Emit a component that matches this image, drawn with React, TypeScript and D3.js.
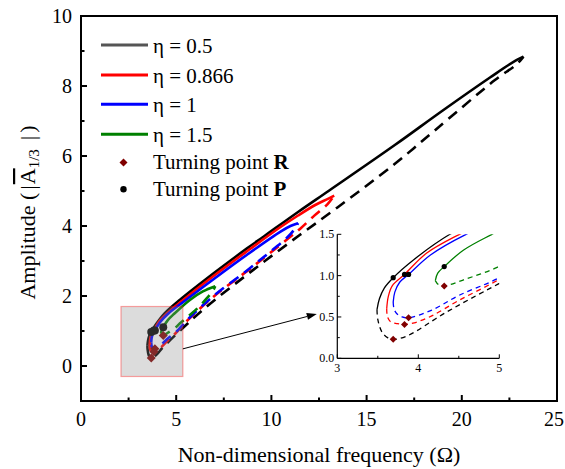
import React from 'react';
import * as d3 from 'd3';

type P = [number, number];

const seriesLabels = ['η = 0.5', 'η = 0.866', 'η = 1', 'η = 1.5'];
const seriesColors = ['#000000', '#ff0000', '#0000ff', '#008000'];
const legendColors = ['#555555', '#ff0000', '#0000ff', '#008000'];

const solidEta05: P[] = [[3.49,0.59],[3.52,0.72],[3.58,0.85],[3.69,0.975],[3.94,1.19],[4.39,1.5],[5.2,1.89],[7,2.66],[8.72,3.36],[9.6,3.7],[11.4,4.4],[13,5.0],[16.5,6.32],[19,7.3],[21.5,8.25],[22.8,8.72],[23.24,8.84]];
const dashEta05: P[] = [[3.49,0.59],[3.5,0.47],[3.55,0.32],[3.62,0.25],[3.69,0.23],[3.86,0.27],[4.35,0.56],[4.99,0.9],[6.43,1.62],[8.72,2.61],[11.01,3.55],[13.47,4.53],[16.47,5.77],[18.58,6.73],[21.74,8.17],[22.88,8.62],[23.24,8.84]];

const solidEta087: P[] = [[3.61,0.6],[3.63,0.75],[3.68,0.88],[3.83,1.015],[4.1,1.27],[4.51,1.5],[5.3,1.86],[6.96,2.57],[8.72,3.28],[10.48,3.97],[11.4,4.3],[12.3,4.6],[12.94,4.77],[13.3,4.87]];
const dashEta087: P[] = [[3.61,0.6],[3.62,0.5],[3.66,0.44],[3.74,0.42],[3.83,0.41],[3.95,0.43],[4.16,0.51],[4.5,0.7],[4.99,0.95],[5.55,1.28],[6.96,1.98],[8.72,2.71],[9.77,3.16],[10.83,3.62],[11.53,3.93],[12.24,4.29],[12.94,4.62],[13.3,4.87]];

const solidEta1: P[] = [[3.69,0.68],[3.71,0.8],[3.77,0.92],[3.88,1.015],[4.15,1.25],[4.59,1.5],[5.3,1.8],[6.96,2.48],[8.72,3.18],[10.48,3.84],[11.0,4.0],[11.4,4.08]];
const dashEta1: P[] = [[3.69,0.68],[3.7,0.6],[3.73,0.545],[3.8,0.5],[3.88,0.49],[4.16,0.58],[4.5,0.76],[4.99,0.97],[5.55,1.3],[6.96,2.0],[8.72,2.73],[9.77,3.19],[10.83,3.67],[11.2,3.9],[11.4,4.08]];

const solidEta15: P[] = [[4.21,0.94],[4.24,1.03],[4.32,1.11],[4.56,1.31],[4.91,1.5],[5.7,1.88],[6.4,2.13],[7.05,2.28]];
const dashEta15: P[] = [[4.21,0.94],[4.25,0.89],[4.32,0.875],[4.56,0.95],[4.95,1.09],[5.2,1.22],[5.7,1.45],[6.16,1.67],[6.6,1.93],[6.95,2.17],[7.05,2.28]];

const turningR: P[] = [[3.69,0.23],[3.83,0.41],[3.88,0.49],[4.32,0.875]];
const turningP: P[] = [[3.69,0.975],[3.83,1.015],[3.88,1.015],[4.32,1.11]];

const xTicks = [0, 5, 10, 15, 20, 25];
const xMinor = [2.5, 7.5, 12.5, 17.5, 22.5];
const yTicks = [0, 2, 4, 6, 8, 10];
const yMinor = [1, 3, 5, 7, 9];
const insetXTicks = [3, 4, 5];
const insetXMinor = [3.5, 4.5];
const insetYTicks = [0, 0.5, 1.0, 1.5];
const insetYMinor = [0.25, 0.75, 1.25];

const zoomBox = { x0: 2.1, x1: 5.35, y0: -0.3, y1: 1.7 };

const solids = [solidEta05, solidEta087, solidEta1, solidEta15];
const dashes = [dashEta05, dashEta087, dashEta1, dashEta15];

const FONT = 'Liberation Serif, Times New Roman, serif';

function diamond(cx: number, cy: number, r: number) {
  return `M${cx},${cy - r}L${cx + r},${cy}L${cx},${cy + r}L${cx - r},${cy}Z`;
}

export default function App() {
  const W = 565, H = 469;
  const x = d3.scaleLinear().domain([0, 25]).range([81, 557]);
  const y = d3.scaleLinear().domain([-1, 10]).range([401, 16]);
  const xi = d3.scaleLinear().domain([3, 5]).range([337.3, 499.3]);
  const yi = d3.scaleLinear().domain([0, 1.5]).range([358.3, 234.3]);

  const line = d3.line<P>().x(d => x(d[0])).y(d => y(d[1])).curve(d3.curveCatmullRom.alpha(0.5));
  const lineI = d3.line<P>().x(d => xi(d[0])).y(d => yi(d[1])).curve(d3.curveCatmullRom.alpha(0.5));

  const bx0 = x(zoomBox.x0), bx1 = x(zoomBox.x1), by0 = y(zoomBox.y1), by1 = y(zoomBox.y0);
  const arrowStart: P = [bx1, y(0.49)];
  const arrowEnd: P = [xi(3) - 20.5, yi(0.5) - 3];
  const ang = Math.atan2(arrowEnd[1] - arrowStart[1], arrowEnd[0] - arrowStart[0]);
  const ah = 10, aw = 3.5;
  const hb: P = [arrowEnd[0] - ah * Math.cos(ang), arrowEnd[1] - ah * Math.sin(ang)];
  const arrowHead = `M${arrowEnd[0]},${arrowEnd[1]}L${hb[0] + aw * Math.sin(ang)},${hb[1] - aw * Math.cos(ang)}L${hb[0] - aw * Math.sin(ang)},${hb[1] + aw * Math.cos(ang)}Z`;

  const legendRows = [45, 75, 104.3, 134.3];
  const ts = { fontFamily: FONT };

  return (
    <svg width={W} height={H} style={{ position: 'absolute', left: 0, top: 0, background: '#fff', fontFamily: FONT }}>
      <defs>
        <clipPath id="insetClip">
          <rect x={xi(3)} y={yi(1.5)} width={xi(5) - xi(3)} height={yi(0) - yi(1.5)} />
        </clipPath>
      </defs>
      <rect x={0} y={0} width={W} height={H} fill="#fff" />

      {/* main curves */}
      {dashes.map((d, i) => (
        <path key={'d' + i} d={line(d) || ''} fill="none" stroke={seriesColors[i]} strokeWidth={2.6} strokeDasharray="11,7" />
      ))}
      {solids.map((d, i) => (
        <path key={'s' + i} d={line(d) || ''} fill="none" stroke={seriesColors[i]} strokeWidth={2.6} strokeLinejoin="round" />
      ))}
      {turningR.map((p, i) => (
        <path key={'r' + i} d={diamond(x(p[0]), y(p[1]), 4.5)} fill="#800000" />
      ))}
      {turningP.map((p, i) => (
        <circle key={'p' + i} cx={x(p[0])} cy={y(p[1])} r={4} fill="#000" />
      ))}

      {/* zoom box */}
      <rect x={bx0} y={by0} width={bx1 - bx0} height={by1 - by0} fill="#8c8c8c" fillOpacity={0.3} stroke="#ff0000" strokeOpacity={0.35} strokeWidth={1.2} />

      {/* arrow */}
      <line x1={arrowStart[0]} y1={arrowStart[1]} x2={hb[0]} y2={hb[1]} stroke="#000" strokeWidth={1} />
      <path d={arrowHead} fill="#000" />

      {/* inset */}
      <g clipPath="url(#insetClip)">
        {dashes.map((d, i) => (
          <path key={'id' + i} d={lineI(d) || ''} fill="none" stroke={seriesColors[i]} strokeWidth={1.3} strokeDasharray="5,4" />
        ))}
        {solids.map((d, i) => (
          <path key={'is' + i} d={lineI(d) || ''} fill="none" stroke={seriesColors[i]} strokeWidth={1.3} />
        ))}
      </g>
      {turningR.map((p, i) => (
        <path key={'ir' + i} d={diamond(xi(p[0]), yi(p[1]), 3.5)} fill="#800000" />
      ))}
      {turningP.map((p, i) => (
        <circle key={'ip' + i} cx={xi(p[0])} cy={yi(p[1])} r={2.6} fill="#000" />
      ))}
      <line x1={xi(3)} y1={yi(0)} x2={xi(5)} y2={yi(0)} stroke="#000" strokeWidth={1.2} />
      <line x1={xi(3)} y1={yi(0)} x2={xi(3)} y2={yi(1.5)} stroke="#000" strokeWidth={1.2} />
      {insetXTicks.map(t => (
        <g key={'ixt' + t}>
          <line x1={xi(t)} x2={xi(t)} y1={yi(0)} y2={yi(0) - 4} stroke="#000" strokeWidth={1} />
          <text style={ts} x={xi(t)} y={yi(0) + 14} fontSize={12} textAnchor="middle">{t}</text>
        </g>
      ))}
      {insetXMinor.map(t => (
        <line key={'ixm' + t} x1={xi(t)} x2={xi(t)} y1={yi(0)} y2={yi(0) - 2.5} stroke="#000" strokeWidth={1} />
      ))}
      {insetYTicks.map(t => (
        <g key={'iyt' + t}>
          <line x1={xi(3)} x2={xi(3) + 4} y1={yi(t)} y2={yi(t)} stroke="#000" strokeWidth={1} />
          <text style={ts} x={xi(3) - 3} y={yi(t) + 4} fontSize={12} textAnchor="end">{t.toFixed(1)}</text>
        </g>
      ))}
      {insetYMinor.map(t => (
        <line key={'iym' + t} x1={xi(3)} x2={xi(3) + 2.5} y1={yi(t)} y2={yi(t)} stroke="#000" strokeWidth={1} />
      ))}

      {/* legend */}
      {seriesLabels.map((lab, i) => (
        <g key={'lg' + i}>
          <line x1={101} x2={148} y1={legendRows[i]} y2={legendRows[i]} stroke={legendColors[i]} strokeWidth={3} />
          <text style={ts} x={153} y={legendRows[i] + 8} fontSize={21}>{lab}</text>
        </g>
      ))}
      <path d={diamond(123.5, 162.5, 4)} fill="#800000" />
      <text style={ts} x={153} y={168.5} fontSize={21}>Turning point <tspan fontWeight="bold">R</tspan></text>
      <circle cx={123.5} cy={189.3} r={3.2} fill="#000" />
      <text style={ts} x={153} y={195.5} fontSize={21}>Turning point <tspan fontWeight="bold">P</tspan></text>

      {/* axes frame */}
      <rect x={x(0)} y={y(10)} width={x(25) - x(0)} height={y(-1) - y(10)} fill="none" stroke="#000" strokeWidth={2} />
      {xTicks.map(t => (
        <g key={'xt' + t}>
          <line x1={x(t)} x2={x(t)} y1={y(-1)} y2={y(-1) - 6} stroke="#000" strokeWidth={2} />
          <text style={ts} x={Math.min(x(t), W - 11)} y={426} fontSize={20} textAnchor="middle">{t}</text>
        </g>
      ))}
      {xMinor.map(t => (
        <line key={'xm' + t} x1={x(t)} x2={x(t)} y1={y(-1)} y2={y(-1) - 3.5} stroke="#000" strokeWidth={2} />
      ))}
      {yTicks.map(t => (
        <g key={'yt' + t}>
          <line x1={x(0)} x2={x(0) + 6} y1={y(t)} y2={y(t)} stroke="#000" strokeWidth={2} />
          <text style={ts} x={72} y={y(t) + 7} fontSize={20} textAnchor="end">{t}</text>
        </g>
      ))}
      {yMinor.map(t => (
        <line key={'ym' + t} x1={x(0)} x2={x(0) + 3.5} y1={y(t)} y2={y(t)} stroke="#000" strokeWidth={2} />
      ))}

      <text style={ts} x={(x(0) + x(25)) / 2} y={462} fontSize={22} textAnchor="middle">Non-dimensional frequency (Ω)</text>
      <text style={ts} transform={`translate(35,${(y(-1) + y(10)) / 2 + 4}) rotate(-90)`} fontSize={22} textAnchor="middle">
        Amplitude (<tspan dx={3}>|</tspan><tspan dx={1} style={{ textDecoration: 'overline' }}>A</tspan><tspan fontSize={15} dy={4}>1/3</tspan><tspan dy={-4} dx={9}>|</tspan><tspan dx={3}>)</tspan>
      </text>
    </svg>
  );
}
